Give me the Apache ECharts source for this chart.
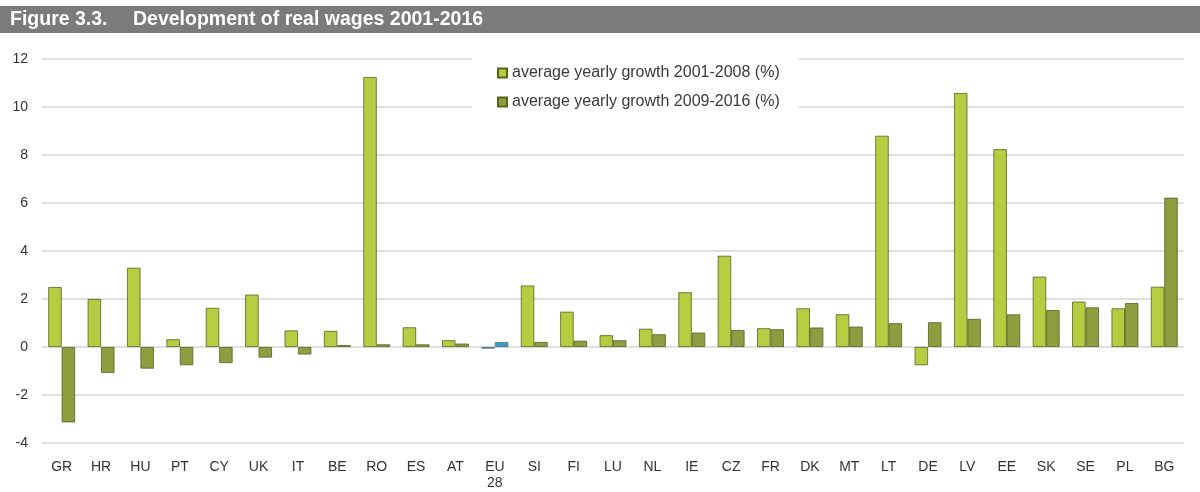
<!DOCTYPE html>
<html>
<head>
<meta charset="utf-8">
<script src="https://cdn.jsdelivr.net/npm/echarts@6/dist/echarts.min.js"></script>
<style>
html,body{margin:0;padding:0;background:#fff;}
#chart{width:1200px;height:492px;}
</style>
</head>
<body>
<div id="chart"></div>
<script>
var categories = ['GR','HR','HU','PT','CY','UK','IT','BE','RO','ES','AT','EU\n28','SI','FI','LU','NL','IE','CZ','FR','DK','MT','LT','DE','LV','EE','SK','SE','PL','BG'];
var growth2001_2008 = [2.5,2.0,3.3,0.32,1.63,2.18,0.69,0.67,11.25,0.82,0.28,-0.07,2.56,1.47,0.49,0.76,2.28,3.8,0.78,1.61,1.36,8.8,-0.76,10.58,8.24,2.93,1.89,1.61,2.51];
var growth2009_2016 = [-3.14,-1.08,-0.9,-0.76,-0.67,-0.44,-0.31,0.08,0.11,0.11,0.14,0.2,0.21,0.26,0.28,0.53,0.6,0.71,0.74,0.81,0.85,0.99,1.03,1.17,1.36,1.54,1.65,1.83,6.22];
var yTicks = [-4,-2,0,2,4,6,8,10,12];
var seriesNames = ['average yearly growth 2001-2008 (%)','average yearly growth 2009-2016 (%)'];

var LIGHT = '#b6cd42', DARK = '#8d9d3f', BORDER = '#55621f';
var EU_LIGHT = '#7fa6bf', EU_DARK = '#3d9bc9';
var euIdx = categories.indexOf('EU\n28');

function build(arr, euColor){
  return arr.map(function(v,i){
    if(i===euIdx){ return {value:v, itemStyle:{color:euColor, borderColor:'#3a6f8c'}}; }
    return v;
  });
}

var chart = echarts.init(document.getElementById('chart'));
var font = 'Liberation Sans, Arial, sans-serif';
chart.setOption({
  animation:false,
  backgroundColor:'#fff',
  graphic:[
    {type:'rect', shape:{x:0,y:6,width:1200,height:27}, style:{fill:'#7b7b7b'}, z:0},
    {type:'text', left:10, top:10, style:{text:'Figure 3.3.', fill:'#fff', font:'bold 19.5px '+font}},
    {type:'text', left:133, top:10, style:{text:'Development of real wages 2001-2016', fill:'#fff', font:'bold 19.5px '+font}}
  ],
  grid:{left:42, right:16, top:59, bottom:49},
  legend:{
    orient:'vertical', left:472, top:55,
    padding:[10,19,8,25],
    backgroundColor:'#fff',
    itemWidth:9, itemHeight:9, itemGap:13,
    icon:'rect',
    textStyle:{color:'#3a3a3a', fontSize:16, fontFamily:font},
    data:seriesNames,
    z:10
  },
  xAxis:{
    type:'category', data:categories,
    axisLine:{show:false}, axisTick:{show:false},
    axisLabel:{color:'#333', fontSize:14, fontFamily:font, margin:16, lineHeight:16, interval:0}
  },
  yAxis:{
    type:'value', min:-4, max:12, interval:2,
    axisLine:{show:false}, axisTick:{show:false},
    axisLabel:{color:'#333', fontSize:14, fontFamily:font, margin:14,
      formatter:function(v){ return yTicks.indexOf(v)>=0 ? String(v) : ''; }},
    splitLine:{lineStyle:{color:'#d4d4d4', width:1.5}}
  },
  series:[
    {name:seriesNames[0], type:'bar', barWidth:13.4, barGap:'0%',
     itemStyle:{color:LIGHT, borderColor:BORDER, borderWidth:0.8},
     data:build(growth2001_2008, EU_LIGHT)},
    {name:seriesNames[1], type:'bar', barWidth:13.4, barGap:'0%',
     itemStyle:{color:DARK, borderColor:BORDER, borderWidth:0.8},
     data:build(growth2009_2016, EU_DARK)}
  ]
});
</script>
</body>
</html>
